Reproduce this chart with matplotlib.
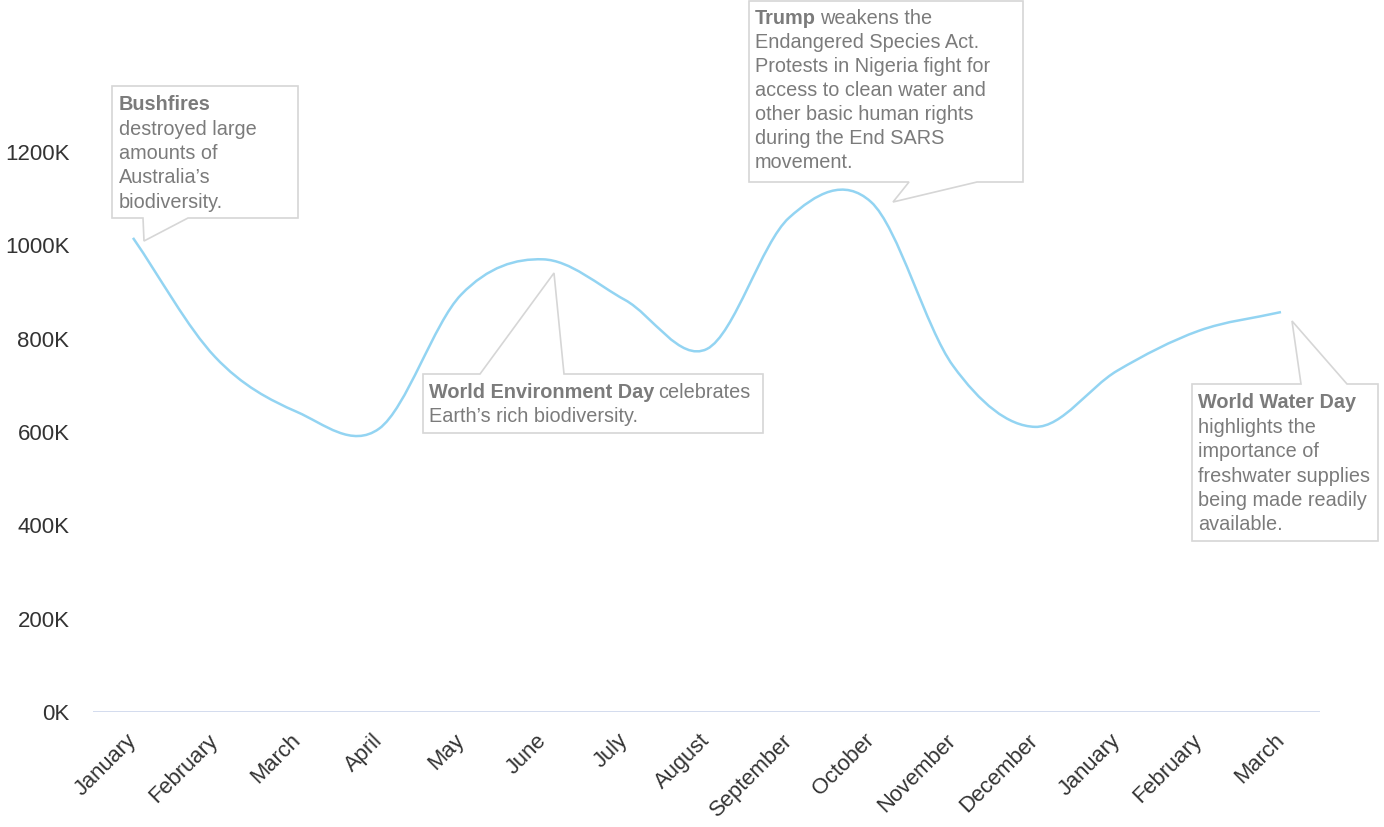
import numpy as np
import matplotlib.pyplot as plt
from matplotlib.path import Path
from matplotlib.patches import PathPatch, Polygon
from matplotlib.transforms import ScaledTranslation

plt.rcParams['font.family'] = ['Liberation Sans', 'DejaVu Sans']

# datos (valores en miles)
months = ['January', 'February', 'March', 'April', 'May', 'June', 'July', 'August',
          'September', 'October', 'November', 'December', 'January', 'February', 'March']
values = [1016, 761, 643, 607, 894, 970, 883, 778, 1059, 1093, 742, 611, 731, 817, 857]
yticks = [0, 200, 400, 600, 800, 1000, 1200]
ytick_labels = ['0K', '200K', '400K', '600K', '800K', '1000K', '1200K']

# notas: (parte en negrita, resto de la primera linea, demas lineas)
bush_note = ('Bushfires', '', ['destroyed large', 'amounts of', 'Australia\u2019s', 'biodiversity.'])
trump_note = ('Trump', 'weakens the', ['Endangered Species Act.', 'Protests in Nigeria fight for',
                                       'access to clean water and', 'other basic human rights',
                                       'during the End SARS', 'movement.'])
env_note = ('World Environment Day', 'celebrates', ['Earth\u2019s rich biodiversity.'])
water_note = ('World Water Day', '', ['highlights the', 'importance of', 'freshwater supplies',
                                      'being made readily', 'available.'])

W, H = 1384, 827
fig = plt.figure(figsize=(W / 100, H / 100), dpi=100)
ax = fig.add_axes([93 / W, 1 - 712 / H, (1320 - 93) / W, 712 / H])

n = len(values)
x = np.arange(n, dtype=float)
y = np.array(values, dtype=float)

# curva suave tipo catmull-rom con beziers
verts = [(x[0], y[0])]
for i in range(n - 1):
    if i == 0:
        c1 = (x[0] + (x[1] - x[0]) / 3, y[0] + (y[1] - y[0]) / 3)
    else:
        c1 = (x[i] + (x[i + 1] - x[i - 1]) / 6, y[i] + (y[i + 1] - y[i - 1]) / 6)
    if i + 1 == n - 1:
        c2 = (x[i + 1] - (x[i + 1] - x[i]) / 3, y[i + 1] - (y[i + 1] - y[i]) / 3)
    else:
        c2 = (x[i + 1] - (x[i + 2] - x[i]) / 6, y[i + 1] - (y[i + 2] - y[i]) / 6)
    verts += [c1, c2, (x[i + 1], y[i + 1])]
codes = [Path.MOVETO] + [Path.CURVE4] * (3 * (n - 1))
ax.add_patch(PathPatch(Path(verts, codes), facecolor='none', edgecolor='#93d4f2', lw=1.8, zorder=2))

ax.axhline(0, color='#ccd6eb', lw=1.2, zorder=1)
ax.set_xlim(-40 / 82, 14 + 39 / 82)
ax.set_ylim(0, 712 / (560 / 1200))
for s in ax.spines.values():
    s.set_visible(False)
ax.set_facecolor('none')

ax.set_yticks(yticks)
ax.set_yticklabels(ytick_labels)
ax.tick_params(axis='y', length=0, pad=17, labelsize=16, labelcolor='#333333')
ax.set_xticks(x)
ax.set_xticklabels(months, rotation=45, ha='right', va='baseline', rotation_mode='anchor')
ax.tick_params(axis='x', length=0, pad=21, labelsize=15.8, labelcolor='#333333')
for lab in ax.get_xticklabels():
    lab.set_transform(lab.get_transform() + ScaledTranslation(4 / 100, 0, fig.dpi_scale_trans))


def fp(px, py):
    return (px / W, 1 - py / H)


def callout(pts):
    fig.add_artist(Polygon([fp(a, b) for a, b in pts], closed=True, transform=fig.transFigure,
                           facecolor='white', edgecolor='#d6d6d6', lw=1.2, zorder=3))


renderer = fig.canvas.get_renderer()


def note(nt, x0, y0, step):
    bold, rest, lines = nt
    t = fig.text(*fp(x0, y0), bold, fontsize=14.3, fontweight='bold', color='#7b7b7b',
                 va='center', ha='left', zorder=4)
    if rest:
        x1 = t.get_window_extent(renderer).x1
        fig.text((x1 + 4) / W, fp(x0, y0)[1], rest, fontsize=14.3, color='#7b7b7b',
                 va='center', ha='left', zorder=4)
    for k, ln in enumerate(lines):
        fig.text(*fp(x0, y0 + step * (k + 1)), ln, fontsize=14.3, color='#7b7b7b',
                 va='center', ha='left', zorder=4)


callout([(112, 86), (298, 86), (298, 218), (188, 218), (144, 241), (143, 218), (112, 218)])
note(bush_note, 119, 105, 24.3)

callout([(749, 1), (1023, 1), (1023, 182), (977, 182), (893, 202), (909, 182), (749, 182)])
note(trump_note, 755, 19, 24.0)

callout([(423, 374), (480, 374), (554, 273), (564, 374), (763, 374), (763, 433), (423, 433)])
note(env_note, 429, 392, 24.5)

callout([(1192, 384), (1301, 384), (1292, 321), (1347, 384), (1378, 384), (1378, 541), (1192, 541)])
note(water_note, 1198, 403, 24.4)

fig.savefig('out.png', dpi=100)
